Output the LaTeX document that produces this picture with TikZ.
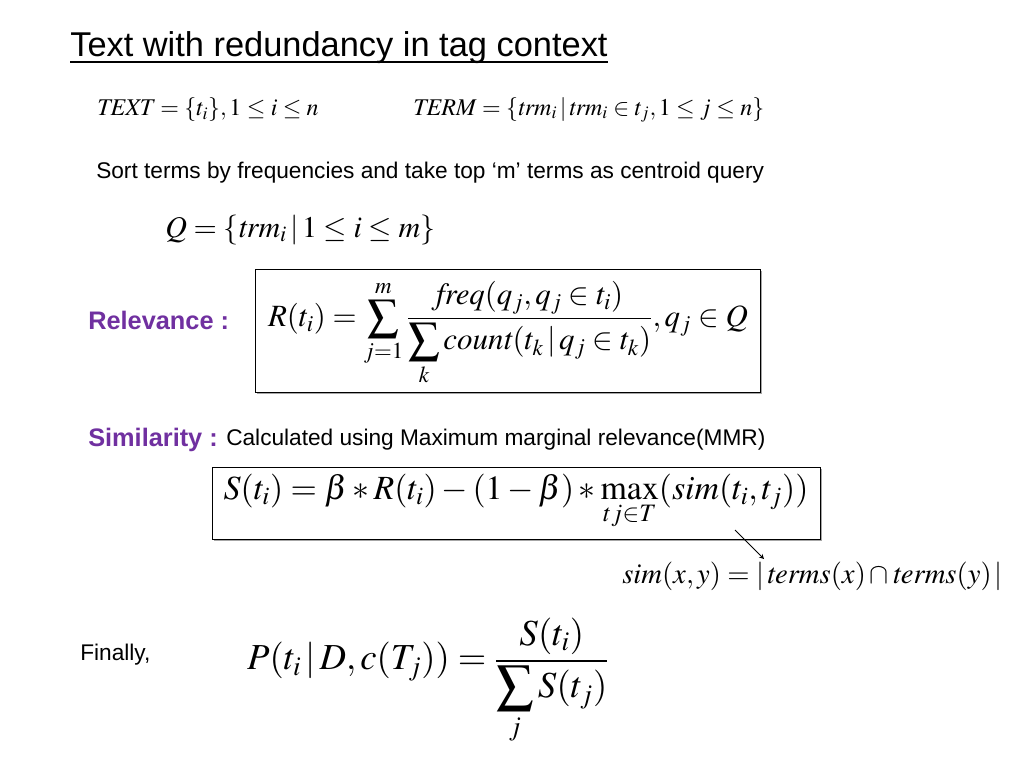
\documentclass[tikz,border=0pt]{standalone}
\usepackage{mathptmx}
\usepackage{fontspec}
\setmainfont{Liberation Serif}
\setsansfont{Liberation Sans}
\definecolor{slidepurple}{RGB}{112,48,160}
\tikzset{
  slidetext/.style={inner sep=0pt, font=\sffamily\fontsize{17}{20}\selectfont},
  slidelabel/.style={inner sep=0pt, text=slidepurple, font=\sffamily\bfseries\fontsize{19}{22}\selectfont},
  eqbox/.style={draw=black, fill=white, line width=0.6pt},
  eqshadow/.style={fill=black!35, draw=none},
}
\begin{document}
\begin{tikzpicture}[x=0.75pt,y=0.75pt,yscale=-1]
\path[use as bounding box] (0,0) rectangle (1024,768);

% Text Node
\draw (70,56) node [anchor=base west, inner sep=0pt, font=\sffamily\fontsize{25.8}{30}\selectfont] (title) {Text with redundancy in tag context};
%Straight Lines
\draw [line width=1.4pt] ([yshift=4.4pt]title.base west) -- ([yshift=4.4pt]title.base east) ;

% Text Node
\draw (97,110) node [anchor=west, inner sep=0pt, font=\fontsize{18}{21}\selectfont] (textset) {$\mathit{TEXT}=\{t_i\},1\le i\le n$};
% Text Node
\draw (413,110) node [anchor=west, inner sep=0pt, font=\fontsize{18}{21}\selectfont] (termset) {$\mathit{TERM}=\{\mathit{trm}_i\,|\,\mathit{trm}_i\in t_j,1\le j\le n\}$};
% Text Node
\draw (96,173) node [anchor=west, slidetext] (sortline) {Sort terms by frequencies and take top ‘m’ terms as centroid query};
% Text Node
\draw (165,230) node [anchor=west, inner sep=0pt, font=\fontsize{22.5}{26}\selectfont] (query) {$Q=\{\mathit{trm}_i\,|\,1\le i\le m\}$};

%Shape: Rectangle
\fill [eqshadow] (257,271) rectangle (762,394) ;
\draw [eqbox] (255,269) rectangle (760,392) ;
% Text Node
\draw (508,333) node [inner sep=0pt, font=\fontsize{23.2}{27}\selectfont] (releq) {$\displaystyle R(t_i)=\sum_{j=1}^{m}\frac{\mathit{freq}(q_j,q_j\in t_i)}{\displaystyle\sum_k \mathit{count}(t_k\,|\,q_j\in t_k)},q_j\in Q$};
% Text Node
\draw (88,320) node [anchor=west, slidelabel] (rellabel) {Relevance :};

% Text Node
\draw (88,440) node [anchor=west, slidelabel] (simlabel) {Similarity :};
% Text Node
\draw (226,440) node [anchor=west, slidetext] (mmrtext) {Calculated using Maximum marginal relevance(MMR)};

%Shape: Rectangle
\fill [eqshadow] (214,469) rectangle (822,541) ;
\draw [eqbox] (212,467) rectangle (820,539) ;
% Text Node
\draw (516,502) node [inner sep=0pt, font=\fontsize{25.4}{29}\selectfont] (scoreeq) {$\displaystyle S(t_i)=\beta*R(t_i)-(1-\beta)*\max_{tj\in T}(\mathit{sim}(t_i,t_j))$};

% Text Node
\draw (622,576) node [anchor=west, inner sep=0pt, font=\fontsize{21.5}{25}\selectfont] (simdef) {$\mathit{sim}(x,y)=|\,\mathit{terms}(x)\cap\mathit{terms}(y)\,|$};
%Straight Lines
\coordinate (maxfoot) at (735,530);
\coordinate (simtop) at (764,559);
\draw [-stealth, line width=0.6pt] (maxfoot) -- (simtop) ;

% Text Node
\draw (80,655) node [anchor=west, slidetext] (finally) {Finally,};
% Text Node
\draw (428,681) node [inner sep=0pt, font=\fontsize{27.5}{31}\selectfont] (probeq) {$\displaystyle P(t_i\,|\,D,c(T_j))=\frac{S(t_i)}{\displaystyle\sum_j S(t_j)}$};

\end{tikzpicture}
\end{document}
